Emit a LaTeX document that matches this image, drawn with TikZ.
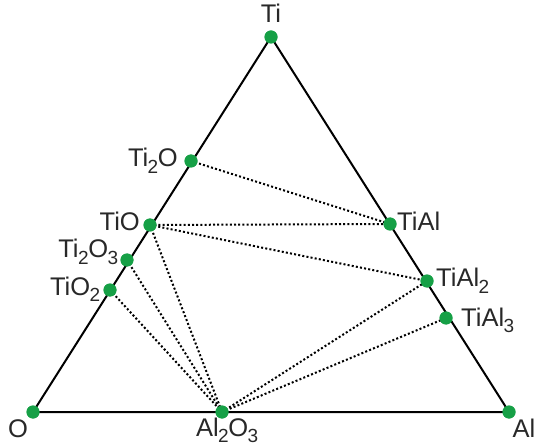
\documentclass[tikz,border=0pt]{standalone}
\usepackage{fontspec}
\setmainfont{Liberation Sans}
\definecolor{dotgreen}{RGB}{22,160,70}
\definecolor{txt}{RGB}{40,40,40}
\newcommand\chsub[1]{\kern-0.6pt\raisebox{-0.26em}{\fontsize{19}{19}\selectfont #1}\kern-0.3pt}
\begin{document}
\begin{tikzpicture}[x=1pt,y=-1pt,
  pt/.style={circle,fill=dotgreen,inner sep=0pt,minimum size=13pt},
  lab/.style={text=txt,font=\fontsize{25.5}{25.5}\selectfont,inner sep=0pt},
  edge/.style={line width=2pt,black},
  tie/.style={line width=2pt,dash pattern=on 2pt off 2.2pt,black}]
\useasboundingbox (0,0) rectangle (535,446);
\coordinate (cTi) at (271,37);
\coordinate (cO) at (33,412);
\coordinate (cAl) at (509,412);
\draw[edge,line join=round] (cTi) -- (cO) -- (cAl) -- cycle;
\node[pt] (Ti) at (cTi) {};
\node[pt] (O) at (cO) {};
\node[pt] (Al) at (cAl) {};
\node[pt] (Ti2O) at (191,161) {};
\node[pt] (TiO) at (150,225) {};
\node[pt] (Ti2O3) at (127,260) {};
\node[pt] (TiO2) at (110,290) {};
\node[pt] (TiAl) at (390,224) {};
\node[pt] (TiAl2) at (427,281) {};
\node[pt] (TiAl3) at (446,318) {};
\node[pt] (Al2O3) at (222,412) {};
\draw[tie] (Ti2O.center) -- (TiAl.center);
\draw[tie] (TiO.center) -- (TiAl.center);
\draw[tie] (TiO.center) -- (TiAl2.center);
\draw[tie] (TiO.center) -- (Al2O3.center);
\draw[tie] (Ti2O3.center) -- (Al2O3.center);
\draw[tie] (TiO2.center) -- (Al2O3.center);
\draw[tie] (Al2O3.center) -- (TiAl2.center);
\draw[tie] (Al2O3.center) -- (TiAl3.center);
\foreach \n in {Ti,O,Al,Ti2O,TiO,Ti2O3,TiO2,TiAl,TiAl2,TiAl3,Al2O3}
  \node[pt] at (\n) {};
\node[lab,anchor=base] (lTi) at (271,23) {Ti};
\node[lab,anchor=base east] (lTi2O) at (178,167) {Ti\chsub{2}O};
\node[lab,anchor=base east] (lTiO) at (140,231) {TiO};
\node[lab,anchor=base east] (lTi2O3) at (118,258) {Ti\chsub{2}O\chsub{3}};
\node[lab,anchor=base east] (lTiO2) at (100,295) {TiO\chsub{2}};
\node[lab,anchor=base west] (lTiAl) at (397,231) {TiAl};
\node[lab,anchor=base west] (lTiAl2) at (436,287) {TiAl\chsub{2}};
\node[lab,anchor=base west] (lTiAl3) at (461,326) {TiAl\chsub{3}};
\node[lab,anchor=base] (lO) at (18,437) {O};
\node[lab,anchor=base] (lAl2O3) at (227,436) {Al\chsub{2}O\chsub{3}};
\node[lab,anchor=base] (lAl) at (524,437) {Al};
\end{tikzpicture}
\end{document}
